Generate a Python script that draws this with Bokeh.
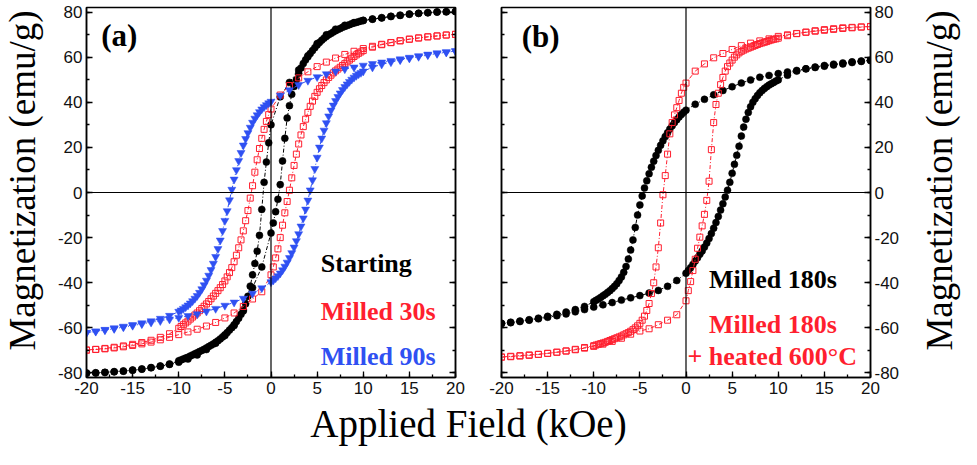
import math
from bokeh.plotting import figure
from bokeh.models import Range1d, LinearAxis, SingleIntervalTicker, Span, NumeralTickFormatter
from bokeh.layouts import row, column
from bokeh.embed import file_html
from bokeh.resources import INLINE
from bokeh.core.properties import value

# ---------------- data ----------------
# descending branch field points (kOe): +20 -> -20
FIELD_DOWN = [20, 19, 18, 17, 16, 15, 14, 13, 12, 11, 10, 9, 8, 7, 6, 5, 4, 3, 2, 1,
              0, -0.25, -0.5, -0.75, -1, -1.25, -1.5, -1.75, -2, -2.25, -2.5, -2.75,
              -3, -3.25, -3.5, -3.75, -4, -4.25, -4.5, -4.75, -5, -5.25, -5.5, -5.75,
              -6, -6.25, -6.5, -6.75, -7, -7.25, -7.5, -7.75, -8, -8.25, -8.5, -8.75,
              -9, -9.25, -9.5, -9.75, -10,
              -11, -12, -13, -14, -15, -16, -17, -18, -19, -20]
# ascending branch field points (kOe): -20 -> +20
FIELD_UP = [-20, -19, -18, -17, -16, -15, -14, -13, -12, -11, -10, -9, -8, -7, -6, -5, -4, -3, -2, -1,
            0, 0.25, 0.5, 0.75, 1, 1.25, 1.5, 1.75, 2, 2.25, 2.5, 2.75,
            3, 3.25, 3.5, 3.75, 4, 4.25, 4.5, 4.75, 5, 5.25, 5.5, 5.75,
            6, 6.25, 6.5, 6.75, 7, 7.25, 7.5, 7.75, 8, 8.25, 8.5, 8.75,
            9, 9.25, 9.5, 9.75, 10,
            11, 12, 13, 14, 15, 16, 17, 18, 19, 20]

# (a) Starting
starting_down = [80.2, 80.1, 80.0, 79.7, 79.4, 79.1, 78.6, 78.1, 77.5, 76.9, 76.3, 75.3, 74.1, 72.4, 69.9, 66.0, 60.6, 54.3, 48.8, 42.4,
                 30.0, 22.0, 13.5, 4.5, -7.5, -19.0, -26.0, -31.5, -36.5, -41.5, -46.0, -49.3, -52.0, -54.0, -55.7, -57.2,
                 -58.6, -59.9, -61.0, -62.1, -63.1, -64.0, -64.9, -65.7, -66.4, -67.1, -67.7, -68.3, -68.9, -69.5, -70.0,
                 -70.5, -71.0, -71.5, -72.0, -72.5, -73.0, -73.4, -73.8, -74.2, -74.6,
                 -76.0, -76.9, -77.6, -78.2, -78.7, -79.1, -79.4, -79.7, -79.9, -80.0]
starting_up = [-80.1, -80.0, -79.8, -79.5, -79.2, -78.8, -78.3, -77.7, -77.0, -76.2, -75.2, -73.8, -72.0, -69.6, -66.8, -63.4, -59.0, -52.5, -42.2, -33.0,
               -18.0, -13.5, -8.5, -3.0, 3.5, 14.0, 24.0, 33.0, 38.5, 43.5, 47.0, 50.0, 52.8, 55.2, 57.2, 58.8,
               60.2, 61.6, 62.9, 64.2, 65.4, 66.5, 67.5, 68.4, 69.2, 69.9, 70.5, 71.1, 71.7, 72.2, 72.7,
               73.2, 73.6, 74.0, 74.4, 74.8, 75.1, 75.4, 75.7, 76.0, 76.2,
               76.8, 77.4, 78.0, 78.5, 79.0, 79.4, 79.7, 80.0, 80.1, 80.2]
# (a) Milled 30s
milled30_down = [70.1, 69.8, 69.4, 69.0, 68.5, 68.0, 67.3, 66.5, 65.7, 64.8, 63.8, 62.6, 61.2, 59.6, 57.8, 55.8, 53.5, 50.8, 47.4, 43.2,
                 37.0, 34.5, 31.5, 28.0, 24.0, 19.5, 14.5, 9.0, 3.0, -2.5, -8.0, -12.5, -17.0, -21.0, -24.5, -27.8,
                 -30.7, -33.3, -35.5, -37.4, -39.2, -40.8, -42.2, -43.5, -44.7, -45.9, -47.1, -48.3, -49.4, -50.4, -51.4,
                 -52.4, -53.4, -54.3, -55.2, -56.1, -57.0, -57.8, -58.6, -59.4, -60.2,
                 -62.6, -64.2, -65.5, -66.5, -67.3, -68.0, -68.6, -69.1, -69.5, -69.8]
milled30_up = [-69.9, -69.6, -69.3, -68.9, -68.4, -67.8, -67.1, -66.3, -65.3, -64.2, -63.0, -61.8, -60.6, -59.2, -57.6, -55.6, -53.4, -50.5, -47.2, -44.0,
               -36.5, -33.0, -29.0, -25.0, -20.0, -14.5, -9.0, -4.0, 1.0, 6.5, 12.0, 17.0, 21.5, 25.5, 29.2, 32.5,
               35.5, 38.2, 40.5, 42.6, 44.4, 46.0, 47.4, 48.7, 49.9, 51.0, 52.0, 53.0, 53.9, 54.7, 55.5,
               56.3, 57.1, 57.9, 58.7, 59.5, 60.3, 61.0, 61.7, 62.3, 62.9,
               64.4, 65.5, 66.4, 67.2, 67.9, 68.5, 69.0, 69.4, 69.8, 70.1]
# (a) Milled 90s
milled90_down = [62.7, 62.3, 61.8, 61.2, 60.5, 59.8, 59.1, 58.4, 57.7, 57.0, 56.3, 55.5, 54.7, 53.7, 52.5, 51.2, 49.6, 47.7, 45.4, 43.0,
                 40.3, 39.6, 38.8, 37.9, 36.9, 35.7, 34.3, 32.8, 31.0, 28.8, 26.4, 23.8, 20.9, 17.6, 14.0, 10.0,
                 5.8, 1.3, -3.4, -8.2, -12.5, -17.0, -21.2, -25.0, -28.5, -31.5, -34.3, -36.8, -39.0, -41.0, -42.8,
                 -44.4, -45.8, -47.0, -48.1, -49.1, -50.0, -50.8, -51.5, -52.2, -52.8,
                 -54.6, -55.9, -57.0, -57.9, -58.7, -59.4, -60.1, -60.8, -61.5, -62.1]
milled90_up = [-62.2, -61.6, -61.0, -60.4, -59.7, -59.0, -58.3, -57.6, -56.9, -56.2, -55.5, -54.7, -53.9, -52.7, -51.5, -50.1, -48.7, -47.0, -44.8, -42.4,
               -39.7, -38.9, -38.0, -37.0, -35.8, -34.4, -32.8, -31.0, -29.0, -26.8, -24.3, -21.5, -18.4, -15.0, -11.4, -7.5,
               -3.5, 1.0, 5.5, 10.5, 15.5, 20.0, 24.0, 27.5, 30.8, 33.8, 36.4, 38.6, 40.6, 42.4, 44.0,
               45.5, 46.8, 48.0, 49.1, 50.1, 51.0, 51.8, 52.5, 53.1, 53.7,
               55.5, 56.8, 57.8, 58.7, 59.5, 60.2, 60.9, 61.5, 62.1, 62.7]
# (b) Milled 180s
milled180_down = [58.5, 58.1, 57.6, 57.0, 56.5, 56.0, 55.4, 54.8, 54.1, 53.4, 52.7, 51.9, 51.1, 49.9, 48.5, 46.9, 45.2, 43.3, 41.3, 39.1,
                  36.5, 35.6, 34.6, 33.5, 32.3, 31.0, 29.6, 28.1, 26.5, 24.8, 22.9, 20.9, 18.7, 16.4, 13.9, 11.2,
                  8.3, 5.2, 2.0, -1.5, -5.5, -10.0, -15.5, -21.0, -25.5, -29.5, -32.8, -35.4, -37.4, -39.0, -40.4,
                  -41.6, -42.6, -43.5, -44.3, -45.1, -45.8, -46.5, -47.2, -47.8, -48.4,
                  -50.5, -51.9, -53.0, -54.0, -54.9, -55.7, -56.4, -57.0, -57.5, -58.0]
milled180_up = [-58.1, -57.7, -57.2, -56.6, -56.0, -55.3, -54.6, -53.8, -52.9, -51.9, -50.8, -49.8, -48.8, -47.7, -46.7, -45.7, -44.6, -43.4, -41.6, -39.0,
                -35.8, -34.6, -33.3, -31.9, -30.4, -28.9, -27.4, -25.9, -24.2, -22.4, -20.4, -18.2, -15.8, -13.3, -10.6, -7.8,
                -5.0, -2.0, 1.0, 4.5, 8.5, 12.5, 16.5, 20.5, 25.0, 29.0, 32.5, 35.5, 38.0, 40.0, 41.6,
                43.0, 44.2, 45.2, 46.1, 46.9, 47.6, 48.2, 48.8, 49.4, 49.9,
                52.0, 53.8, 54.8, 55.6, 56.3, 56.9, 57.4, 57.9, 58.3, 58.6]
# (b) Milled 180s + heated 600 C
heated_down = [73.5, 73.3, 73.0, 72.7, 72.3, 71.9, 71.5, 71.0, 70.5, 69.9, 69.2, 68.1, 67.2, 66.2, 65.1, 63.4, 61.6, 59.7, 57.0, 53.8,
               48.5, 46.6, 44.0, 40.8, 37.6, 34.4, 31.0, 26.0, 17.0, 7.5, -1.0, -13.5, -24.5, -33.0, -40.0, -44.8,
               -49.2, -52.3, -54.8, -56.6, -58.0, -59.1, -60.0, -60.8, -61.5, -62.1, -62.6, -63.1, -63.6, -64.0, -64.4,
               -64.8, -65.2, -65.6, -66.0, -66.4, -66.7, -67.0, -67.3, -67.6, -67.9,
               -68.7, -69.5, -70.2, -70.8, -71.3, -71.7, -72.0, -72.3, -72.6, -72.9]
heated_up = [-73.0, -72.8, -72.5, -72.2, -71.8, -71.3, -70.8, -70.3, -69.7, -69.0, -68.2, -67.2, -66.0, -64.6, -62.8, -61.4, -60.4, -58.6, -56.6, -54.2,
             -48.0, -43.5, -39.5, -34.6, -29.6, -24.7, -19.8, -14.8, -9.7, -3.5, 5.0, 19.0, 31.0, 39.0, 44.0, 47.8,
             51.0, 53.8, 55.8, 57.4, 58.7, 60.0, 61.0, 61.9, 62.6, 63.1, 63.6, 64.0, 64.4, 64.8, 65.2,
             65.6, 66.0, 66.3, 66.6, 66.9, 67.3, 67.6, 67.9, 68.1, 68.4,
             69.5, 70.4, 71.1, 71.7, 72.2, 72.6, 73.0, 73.2, 73.4, 73.6]

LABELS_A = ["Starting", "Milled 30s", "Milled 90s"]
LABELS_B = ["Milled 180s", "Milled 180s", "+ heated 600\u00b0C"]
Y_TITLE = "Magnetization (emu/g)"
X_TITLE = "Applied Field (kOe)"
X_TICK_STEP = 5
Y_TICK_STEP = 20

for arr in (starting_down, milled30_down, milled90_down, milled180_down, heated_down):
    assert len(arr) == len(FIELD_DOWN), len(arr)
for arr in (starting_up, milled30_up, milled90_up, milled180_up, heated_up):
    assert len(arr) == len(FIELD_UP), len(arr)

# ---------------- styling ----------------
BLACK = "#000000"
RED = "#ff1f2f"
BLUE = "#2f50f2"
SERIF = "Liberation Serif"
SANS = "Liberation Sans"
PANEL_H = 402


def style_axis(ax, show_labels):
    ax.axis_line_color = "black"
    ax.axis_line_width = 1.5
    ax.major_tick_line_color = "black"
    ax.minor_tick_line_color = "black"
    ax.major_tick_line_width = 1.3
    ax.minor_tick_line_width = 1.3
    ax.major_tick_in = 6
    ax.major_tick_out = 0
    ax.minor_tick_in = 3
    ax.minor_tick_out = 0
    ax.formatter = NumeralTickFormatter(format="0")
    ax.major_label_text_font = SANS
    ax.major_label_text_font_size = "17px"
    ax.major_label_standoff = 4
    if show_labels:
        ax.major_label_text_color = "#111111"
    else:
        ax.major_label_text_color = None
        ax.major_label_text_font_size = "2px"
        ax.major_label_standoff = 0


def make_panel(width, border_left, border_right, labels_side):
    p = figure(width=width, height=PANEL_H, title=None,
               x_range=Range1d(-20, 20), y_range=Range1d(-82, 82),
               toolbar_location=None, output_backend="svg",
               x_axis_location=None, y_axis_location=None,
               min_border_left=border_left, min_border_right=border_right,
               min_border_top=7, min_border_bottom=25)
    p.grid.visible = False
    p.outline_line_color = "black"
    p.outline_line_width = 1.5

    xb = LinearAxis(ticker=SingleIntervalTicker(interval=X_TICK_STEP, num_minor_ticks=2))
    style_axis(xb, True)
    p.add_layout(xb, "below")

    yl = LinearAxis(ticker=SingleIntervalTicker(interval=Y_TICK_STEP, num_minor_ticks=2))
    yr = LinearAxis(ticker=SingleIntervalTicker(interval=Y_TICK_STEP, num_minor_ticks=2))
    style_axis(yl, labels_side == "left")
    style_axis(yr, labels_side == "right")
    p.add_layout(yl, "left")
    p.add_layout(yr, "right")

    p.add_layout(Span(location=0, dimension="height", line_color="black", line_width=1.2))
    p.add_layout(Span(location=0, dimension="width", line_color="black", line_width=1.2))
    return p


def text_strip(width, height):
    t = figure(width=width, height=height, title=None,
               x_range=Range1d(0, 1), y_range=Range1d(0, height),
               toolbar_location=None, output_backend="svg",
               x_axis_location=None, y_axis_location=None,
               min_border=0, min_border_left=0, min_border_right=0,
               min_border_top=0, min_border_bottom=0)
    t.grid.visible = False
    t.outline_line_color = None
    return t


def draw_loop(p, down, up, color, marker, size, filled):
    for fx, my in ((FIELD_DOWN, down), (FIELD_UP, up)):
        p.line(fx, my, line_color=color, line_width=1, line_dash="4 2 1 2")
        if filled:
            p.scatter(fx, my, marker=marker, size=size, fill_color=color, line_color=color, line_width=0.5)
        else:
            p.scatter(fx, my, marker=marker, size=size, fill_alpha=0, line_color=color, line_width=1)


# ---------------- left title strip ----------------
p0 = text_strip(44, PANEL_H)
p0.text(x=[0.5], y=[214], text=[Y_TITLE], angle=math.pi / 2, text_font=value(SERIF),
        text_font_size="37px", text_color="black", text_align="center", text_baseline="middle")

# ---------------- panel (a) ----------------
p1 = make_panel(434, 42, 23, "left")
draw_loop(p1, starting_down, starting_up, BLACK, "circle", 7, True)
draw_loop(p1, milled30_down, milled30_up, RED, "square", 6, False)
draw_loop(p1, milled90_down, milled90_up, BLUE, "inverted_triangle", 8, True)

p1.text(x=[-18.4], y=[69.5], text=["(a)"], text_font=value(SERIF), text_font_style="bold",
        text_font_size="31px", text_color="black", text_baseline="middle")
p1.text(x=[5.4, 5.4, 5.4], y=[-31.6, -52.7, -72.8], text=LABELS_A,
        text_color=[BLACK, RED, BLUE], text_font=value(SERIF), text_font_style="bold",
        text_font_size="26px", text_baseline="middle", text_align="left")

# ---------------- panel (b) ----------------
p2 = make_panel(432, 23, 40, "right")
draw_loop(p2, milled180_down, milled180_up, BLACK, "circle", 7, True)
draw_loop(p2, heated_down, heated_up, RED, "square", 6, False)

p2.text(x=[-17.8], y=[69.0], text=["(b)"], text_font=value(SERIF), text_font_style="bold",
        text_font_size="31px", text_color="black", text_baseline="middle")
p2.text(x=[2.5, 2.5, 0.15], y=[-38.5, -58.6, -72.8], text=LABELS_B,
        text_color=[BLACK, RED, RED], text_font=value(SERIF), text_font_style="bold",
        text_font_size="26px", text_baseline="middle", text_align="left")

# ---------------- right title strip ----------------
p4 = text_strip(51, PANEL_H)
p4.text(x=[0.57], y=[214], text=[Y_TITLE], angle=math.pi / 2, text_font=value(SERIF),
        text_font_size="37px", text_color="black", text_align="center", text_baseline="middle")

# ---------------- shared x-axis title ----------------
p3 = text_strip(961, 47)
p3.x_range = Range1d(0, 961)
p3.text(x=[468], y=[26.5], text=[X_TITLE], text_font=value(SERIF),
        text_font_size="39px", text_color="black", text_align="center", text_baseline="middle")

layout = column(row(p0, p1, p2, p4), p3)
open("out.html", "w").write(file_html(layout, INLINE))
